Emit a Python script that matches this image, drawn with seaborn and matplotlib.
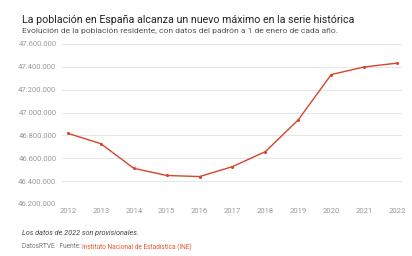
import pandas as pd
import matplotlib.pyplot as plt
import matplotlib.ticker as mticker
import seaborn as sns

# Población residente a 1 de enero (INE, padrón)
anios = [2012, 2013, 2014, 2015, 2016, 2017, 2018, 2019, 2020, 2021, 2022]
poblacion = [46818216, 46727890, 46512199, 46449565, 46440099, 46527039,
             46658447, 46937060, 47332614, 47398695, 47432805]
ticks_y = [46200000, 46400000, 46600000, 46800000, 47000000, 47200000, 47400000, 47600000]

df = pd.DataFrame({"anio": anios, "poblacion": poblacion})

sns.set_theme(style="white")
plt.rcParams["font.family"] = ["Roboto", "DejaVu Sans"]

W, H = 412, 256
fig = plt.figure(figsize=(W / 100, H / 100), dpi=100)
ax = fig.add_axes([62 / W, 1 - 204 / H, (402 - 62) / W, (204 - 44) / H])

sns.lineplot(data=df, x="anio", y="poblacion", ax=ax, color="#d8432b",
             linewidth=1.0, marker="o", markersize=2.2, markeredgewidth=0)

ax.set_xlim(2011.82, 2022.15)
ax.set_ylim(ticks_y[0], ticks_y[-1])
ax.set_yticks(ticks_y)
ax.set_xticks(anios)
ax.yaxis.set_major_formatter(mticker.FuncFormatter(lambda v, p: f"{int(v):,}".replace(",", ".")))
ax.grid(axis="y", color="#e6e6e6", linewidth=0.7)
ax.set_axisbelow(True)
for s in ax.spines.values():
    s.set_visible(False)
ax.tick_params(axis="both", length=0, labelsize=5.5, colors="#999999")
ax.tick_params(axis="y", pad=4)
ax.tick_params(axis="x", pad=3)
ax.set_xlabel("")
ax.set_ylabel("")

fig.text(22 / W, 1 - 20 / H, "La población en España alcanza un nuevo máximo en la serie histórica",
         fontsize=7.7, color="#222222", va="center", ha="left")
fig.text(22 / W, 1 - 31 / H, "Evolución de la población residente, con datos del padrón a 1 de enero de cada año.",
         fontsize=6.1, color="#555555", va="center", ha="left")
fig.text(22 / W, 1 - 233 / H, "Los datos de 2022 son provisionales.",
         fontsize=5.2, color="#444444", style="italic", va="center", ha="left")
t = fig.text(22 / W, 1 - 247 / H, "DatosRTVE · Fuente: ",
             fontsize=4.7, color="#777777", va="center", ha="left")
fig.canvas.draw()
bb = t.get_window_extent()
fig.text(bb.x1 / W, 1 - 247 / H, "Instituto Nacional de Estadística (INE)",
         fontsize=4.7, color="#e8542e", va="center", ha="left")

fig.savefig("out.png", dpi=100)
